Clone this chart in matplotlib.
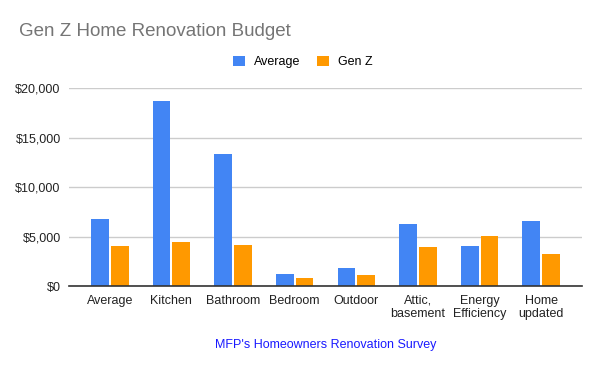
import numpy as np
import matplotlib.pyplot as plt
from matplotlib.ticker import FuncFormatter

categories = ["Average", "Kitchen", "Bathroom", "Bedroom", "Outdoor",
              "Attic,\nbasement", "Energy\nEfficiency", "Home\nupdated"]
average = [6800, 18700, 13300, 1250, 1850, 6250, 4050, 6600]
gen_z = [4050, 4450, 4150, 850, 1150, 3950, 5050, 3250]

plt.rcParams["font.family"] = ["Liberation Sans", "DejaVu Sans"]

fig = plt.figure(figsize=(6, 3.71), dpi=100)
ax = fig.add_axes([69 / 600, 1 - 286.3 / 371, 513 / 600, (286.3 - 88) / 371])

x = np.arange(len(categories))
w = 0.29
ax.bar(x - 0.16, average, w, color="#4285F4", label="Average", zorder=3)
ax.bar(x + 0.16, gen_z, w, color="#FF9900", label="Gen Z", zorder=3)

ax.set_ylim(0, 20000)
ax.set_xlim(-0.66, 7.66)
ax.set_yticks(range(0, 20001, 5000))
ax.yaxis.set_major_formatter(FuncFormatter(lambda v, p: f"${v:,.0f}"))
ax.set_xticks(x)
ax.set_xticklabels(categories)
ax.tick_params(length=0, labelsize=9, colors="#222222")
ax.tick_params(axis="y", pad=6)
ax.tick_params(axis="x", pad=6)
ax.grid(axis="y", color="#cccccc", linewidth=1, zorder=0)

for s in ["top", "right", "left"]:
    ax.spines[s].set_visible(False)
ax.spines["bottom"].set_color("#333333")
ax.spines["bottom"].set_linewidth(1.2)
ax.spines["bottom"].set_zorder(4)

fig.text(19 / 600, 1 - 32 / 371, "Gen Z Home Renovation Budget", fontsize=13.5,
         color="#757575", va="center", ha="left")

fig.legend(loc="center", bbox_to_anchor=(303 / 600, 1 - 62 / 371), ncol=2,
           frameon=False, fontsize=9, handlelength=0.95, handleheight=0.95,
           handletextpad=0.75, columnspacing=1.3, borderaxespad=0, borderpad=0)

fig.text(325.5 / 600, 1 - 345 / 371, "MFP's Homeowners Renovation Survey",
         fontsize=9, color="#1a1aff", ha="center", va="center")

fig.savefig("out.png", dpi=100)
